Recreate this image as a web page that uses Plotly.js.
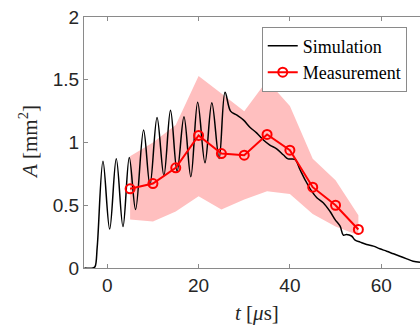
<!DOCTYPE html>
<html>
<head>
<meta charset="utf-8">
<script src="https://cdn.plot.ly/plotly-3.0.1.min.js"></script>
<style>html,body{margin:0;padding:0;background:#fff;}#chart{width:420px;height:335px;}</style>
</head>
<body>
<div id="chart"></div>
<script>
// Simulation curve (time in microseconds, area in mm^2)
var simT = [-5, -3.2, -2.7, -2.2, -0.94, 0.52, 1.97, 3.44, 4.82, 6.2, 7.95, 9.35, 10.9, 12.4, 13.85, 15.3, 16.8, 18.3, 19.8, 21.4, 22.9, 24.5, 25.8, 27.0, 28.3, 29.8, 31.3, 32.7, 34.2, 35.6, 37.1, 38.6, 39.6, 41.1, 42.2, 43.3, 44.8, 45.9, 47.3, 48.8, 49.9, 51.0, 51.7, 52.4, 53.5, 54.3, 55.4, 56.8, 58.3, 59.7, 61.2, 62.7, 64.1, 65.6, 67.0, 68.5];
var simA = [0, 0, 0.01, 0.17, 0.85, 0.31, 0.87, 0.33, 0.88, 0.466, 1.10, 0.66, 1.20, 0.737, 1.257, 0.77, 1.205, 0.727, 1.32, 0.838, 1.316, 0.872, 1.40, 1.25, 1.22, 1.18, 1.12, 1.077, 1.02, 0.98, 0.95, 0.90, 0.87, 0.865, 0.785, 0.705, 0.61, 0.56, 0.52, 0.45, 0.386, 0.333, 0.262, 0.267, 0.255, 0.222, 0.206, 0.187, 0.174, 0.153, 0.134, 0.113, 0.094, 0.073, 0.054, 0.046];

// Measurement
var measT = [5, 10, 15, 20, 25, 30, 35, 40, 45, 50, 55];
var measA = [0.631, 0.673, 0.798, 1.056, 0.912, 0.899, 1.064, 0.939, 0.644, 0.50, 0.307];
var measUpper = [0.89, 1.0, 1.14, 1.53, 1.39, 1.25, 1.494, 1.29, 0.87, 0.70, 0.42];
var measLower = [0.386, 0.37, 0.45, 0.572, 0.466, 0.546, 0.612, 0.59, 0.43, 0.33, 0.26];

var xTicks = [0, 20, 40, 60];
var yTicks = [0, 0.5, 1, 1.5, 2];
var yTickText = ['0', '0.5', '1', '1.5', '2'];

var bandX = measT.concat(measT.slice().reverse());
var bandY = measUpper.concat(measLower.slice().reverse());

var traces = [
  {x: bandX, y: bandY, type: 'scatter', mode: 'lines', fill: 'toself',
   fillcolor: '#ffbfbf', line: {width: 0, color: '#ffbfbf'}, showlegend: false, hoverinfo: 'skip'},
  {x: simT, y: simA, type: 'scatter', mode: 'lines', name: 'Simulation',
   line: {color: '#000000', width: 1.5, shape: 'spline', smoothing: 1}},
  {x: measT, y: measA, type: 'scatter', mode: 'lines+markers', name: 'Measurement',
   line: {color: '#ff0000', width: 2},
   marker: {symbol: 'circle-open', size: 9, color: '#ff0000', line: {width: 2, color: '#ff0000'}}}
];

var tickFont = {family: 'Liberation Sans, Arial, sans-serif', size: 19, color: '#262626'};
var layout = {
  width: 420, height: 335,
  margin: {l: 84, r: 0, t: 17, b: 67, pad: 0},
  paper_bgcolor: '#ffffff', plot_bgcolor: '#ffffff',
  showlegend: true,
  legend: {x: 0.529, y: 0.962, xanchor: 'left', yanchor: 'top',
    bgcolor: '#ffffff', bordercolor: '#8a8a8a', borderwidth: 1,
    font: {family: 'Liberation Serif, Times New Roman, serif', size: 18, color: '#000'},
    tracegroupgap: 0},
  xaxis: {range: [-5.1, 68.5], tickvals: xTicks, ticktext: xTicks.map(String),
    ticks: 'inside', ticklen: 4, tickcolor: '#8a8a8a', tickwidth: 1,
    showline: true, linecolor: '#8a8a8a', linewidth: 1, mirror: 'ticks',
    showgrid: false, zeroline: false, tickfont: tickFont},
  yaxis: {range: [0, 2], tickvals: yTicks, ticktext: yTickText,
    ticks: 'inside', ticklen: 4, tickcolor: '#8a8a8a', tickwidth: 1,
    showline: true, linecolor: '#8a8a8a', linewidth: 1, mirror: false,
    showgrid: false, zeroline: false, tickfont: tickFont},
  annotations: [
    {text: '<i>A</i> [mm<sup>2</sup>]', xref: 'paper', yref: 'paper', x: -0.165, y: 0.5,
     xanchor: 'center', yanchor: 'middle', textangle: -90, showarrow: false,
     font: {family: 'Liberation Serif, Times New Roman, serif', size: 21, color: '#262626'}},
    {text: '<i>t</i> [<i>μ</i>s]', xref: 'paper', yref: 'paper', x: 0.515, y: -0.18,
     xanchor: 'center', yanchor: 'middle', showarrow: false,
     font: {family: 'Liberation Serif, Times New Roman, serif', size: 21, color: '#262626'}}
  ]
};

Plotly.newPlot('chart', traces, layout, {displayModeBar: false, staticPlot: true});
</script>
</body>
</html>
